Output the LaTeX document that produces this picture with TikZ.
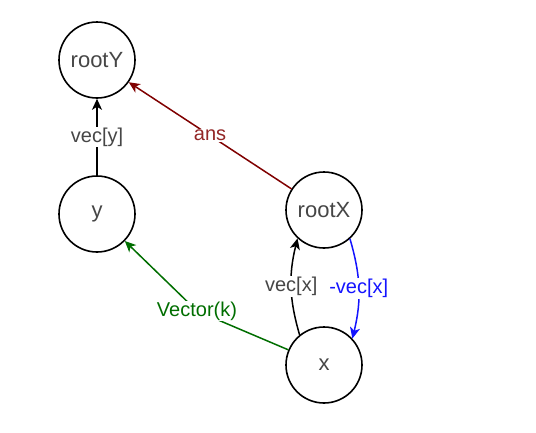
\documentclass[tikz,border=0pt]{standalone}
\usepackage{fontspec}
\setmainfont{Liberation Sans}
\usepackage{xcolor}
\usetikzlibrary{arrows.meta}
\definecolor{nodetext}{RGB}{70,70,70}
\definecolor{ansred}{RGB}{128,0,0}
\definecolor{vecgreen}{RGB}{0,110,0}
\definecolor{vecblue}{RGB}{20,20,255}
\tikzset{
  vnode/.style={draw,line width=1.6pt,circle,minimum size=76pt,inner sep=0pt,text=nodetext,font=\fontsize{22}{26}\selectfont},
  elabel/.style={fill=white,inner sep=1pt,font=\fontsize{20}{24}\selectfont},
  edge/.style={-{Stealth[length=11pt,width=10pt,inset=3pt]},line width=1.5pt}
}
\begin{document}
\begin{tikzpicture}[x=1pt,y=-1pt]
\fill[white] (0,0) rectangle (536,432);
\useasboundingbox (0,0) rectangle (536,432);
%nodes
\node[vnode] (rootY) at (97,60){rootY};
\node[vnode] (y) at (97,214){y};
\node[vnode] (rootX) at (324,210){rootX};
\node[vnode] (x) at (324,365){x};
\coordinate (vk) at (197,311);
%edges
\draw [edge] (y) -- node[elabel,text=nodetext]{vec[y]} (rootY);
\draw [edge,ansred] (rootX.147) -- node[elabel,text=ansred!85!white]{ans} (rootY.-35);
\draw [edge,vecgreen] (x) -- (vk) -- (y);
\node[elabel,text=vecgreen] (vklabel) at (vk){Vector(k)};
\draw [edge] (x.129) to[bend left=15] node[elabel,text=nodetext]{vec[x]} (rootX.227);
\draw [edge,vecblue] (rootX.-48) to[bend left=15] node[elabel]{-vec[x]} (x.43);
\end{tikzpicture}
\end{document}
